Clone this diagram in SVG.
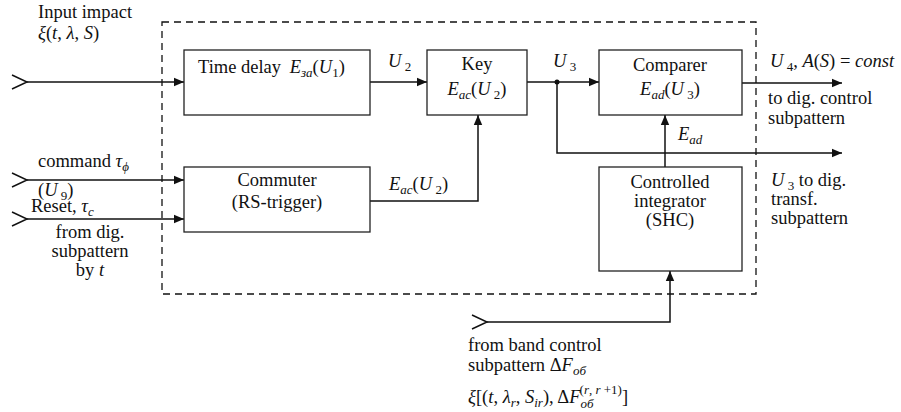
<svg xmlns="http://www.w3.org/2000/svg" width="901" height="412" viewBox="0 0 901 412">
  <defs>
    <marker id="arr" viewBox="0 0 10 10" refX="10" refY="5" markerWidth="10" markerHeight="10" markerUnits="userSpaceOnUse" orient="auto">
      <path d="M0,0.8 L10,5 L0,9.2 Z" fill="#111"/>
    </marker>
  </defs>

  <!-- dashed enclosure of the processing unit -->
  <rect x="162" y="22" width="594" height="272" fill="none" stroke="#111" stroke-width="1.3" stroke-dasharray="7 5"/>

  <g id="connectors" fill="none" stroke="#111" stroke-width="1.5">
    <!-- input chevrons -->
    <polyline points="12,75 27,82 12,89"/>
    <polyline points="12,173 27,180 12,187"/>
    <polyline points="12,212 27,219 12,226"/>
    <polyline points="472,315 487,322 472,329"/>
    <!-- input impact to time delay -->
    <line x1="27" y1="82" x2="184" y2="82" marker-end="url(#arr)"/>
    <!-- command and reset to commuter -->
    <line x1="27" y1="180" x2="184" y2="180" marker-end="url(#arr)"/>
    <line x1="27" y1="219" x2="184" y2="219" marker-end="url(#arr)"/>
    <!-- time delay to key -->
    <line x1="370" y1="82" x2="427" y2="82" marker-end="url(#arr)"/>
    <!-- commuter to key -->
    <polyline points="370,201 478,201 478,115" marker-end="url(#arr)"/>
    <!-- key to comparer -->
    <line x1="527" y1="82" x2="599" y2="82" marker-end="url(#arr)"/>
    <circle cx="557" cy="82" r="2.5" fill="#111" stroke="none"/>
    <!-- U3 branch out -->
    <polyline points="557,82 557,153 842,153" marker-end="url(#arr)"/>
    <!-- comparer output -->
    <line x1="742" y1="83" x2="842" y2="83" marker-end="url(#arr)"/>
    <!-- integrator to comparer -->
    <line x1="665" y1="167" x2="665" y2="115" marker-end="url(#arr)"/>
    <!-- band control input to integrator -->
    <polyline points="487,322 670,322 670,271" marker-end="url(#arr)"/>
  </g>

  <g id="time-delay">
    <rect x="184" y="50" width="186" height="65" fill="#fff" stroke="#222" stroke-width="1.3"/>
    <text font-family="Liberation Serif" font-size="18.5" fill="#111" x="198" y="73">Time delay <tspan font-style="italic" dx="4">E</tspan><tspan font-style="italic" font-size="13" dy="4">за</tspan><tspan dy="-4">(</tspan><tspan font-style="italic">U</tspan><tspan font-size="13" dy="4">1</tspan><tspan dy="-4">)</tspan></text>
  </g>

  <g id="key">
    <rect x="427" y="50" width="100" height="65" fill="#fff" stroke="#222" stroke-width="1.3"/>
    <text font-family="Liberation Serif" font-size="18.5" fill="#111" text-anchor="middle" x="477" y="70">Key</text>
    <text font-family="Liberation Serif" font-size="18.5" fill="#111" text-anchor="middle" x="477" y="95"><tspan font-style="italic">E</tspan><tspan font-style="italic" font-size="13" dy="4">ac</tspan><tspan dy="-4">(</tspan><tspan font-style="italic">U</tspan><tspan font-size="13" dy="4"> 2</tspan><tspan dy="-4">)</tspan></text>
  </g>

  <g id="comparer">
    <rect x="599" y="50" width="143" height="65" fill="#fff" stroke="#222" stroke-width="1.3"/>
    <text font-family="Liberation Serif" font-size="18.5" fill="#111" text-anchor="middle" x="670" y="71">Comparer</text>
    <text font-family="Liberation Serif" font-size="18.5" fill="#111" text-anchor="middle" x="670" y="95"><tspan font-style="italic">E</tspan><tspan font-style="italic" font-size="13" dy="4">ad</tspan><tspan dy="-4">(</tspan><tspan font-style="italic">U</tspan><tspan font-size="13" dy="4"> 3</tspan><tspan dy="-4">)</tspan></text>
  </g>

  <g id="commuter">
    <rect x="184" y="167" width="186" height="65" fill="#fff" stroke="#222" stroke-width="1.3"/>
    <text font-family="Liberation Serif" font-size="18.5" fill="#111" text-anchor="middle" x="277" y="186">Commuter</text>
    <text font-family="Liberation Serif" font-size="18.5" fill="#111" text-anchor="middle" x="277" y="208">(RS-trigger)</text>
  </g>

  <g id="integrator">
    <rect x="599" y="167" width="143" height="104" fill="#fff" stroke="#222" stroke-width="1.3"/>
    <text font-family="Liberation Serif" font-size="18.5" fill="#111" text-anchor="middle" x="670" y="188">Controlled</text>
    <text font-family="Liberation Serif" font-size="18.5" fill="#111" text-anchor="middle" x="670" y="207">integrator</text>
    <text font-family="Liberation Serif" font-size="18.5" fill="#111" text-anchor="middle" x="670" y="226">(SHC)</text>
  </g>

  <g id="labels">
    <text font-family="Liberation Serif" font-size="18.5" fill="#111" x="38" y="18">Input impact</text>
    <text font-family="Liberation Serif" font-size="18.5" fill="#111" x="38" y="39"><tspan font-style="italic">ξ</tspan>(<tspan font-style="italic">t</tspan>, <tspan font-style="italic">λ</tspan>, <tspan font-style="italic">S</tspan>)</text>
    <text font-family="Liberation Serif" font-size="18.5" fill="#111" x="388" y="67"><tspan font-style="italic">U</tspan><tspan font-size="13" dy="4"> 2</tspan></text>
    <text font-family="Liberation Serif" font-size="18.5" fill="#111" x="553" y="67"><tspan font-style="italic">U</tspan><tspan font-size="13" dy="4"> 3</tspan></text>
    <text font-family="Liberation Serif" font-size="18.5" fill="#111" x="770" y="67"><tspan font-style="italic">U</tspan><tspan font-size="13" dy="4"> 4</tspan><tspan dy="-4">, </tspan><tspan font-style="italic">A</tspan>(<tspan font-style="italic">S</tspan>) = <tspan font-style="italic">const</tspan></text>
    <text font-family="Liberation Serif" font-size="18.5" fill="#111" x="768" y="104">to dig. control</text>
    <text font-family="Liberation Serif" font-size="18.5" fill="#111" x="768" y="124">subpattern</text>
    <text font-family="Liberation Serif" font-size="18.5" fill="#111" x="678" y="140"><tspan font-style="italic">E</tspan><tspan font-style="italic" font-size="13" dy="4">ad</tspan></text>
    <text font-family="Liberation Serif" font-size="18.5" fill="#111" x="771" y="186"><tspan font-style="italic">U</tspan><tspan font-size="13" dy="4"> 3</tspan><tspan dy="-4">  to dig.</tspan></text>
    <text font-family="Liberation Serif" font-size="18.5" fill="#111" x="771" y="205">transf.</text>
    <text font-family="Liberation Serif" font-size="18.5" fill="#111" x="771" y="224">subpattern</text>
    <text font-family="Liberation Serif" font-size="18.5" fill="#111" x="389" y="190"><tspan font-style="italic">E</tspan><tspan font-style="italic" font-size="13" dy="4">ac</tspan><tspan dy="-4">(</tspan><tspan font-style="italic">U</tspan><tspan font-size="13" dy="4"> 2</tspan><tspan dy="-4">)</tspan></text>
    <text font-family="Liberation Serif" font-size="18.5" fill="#111" x="38" y="167">command  <tspan font-style="italic">τ</tspan><tspan font-style="italic" font-size="13" dy="4">ϕ</tspan></text>
    <text font-family="Liberation Serif" font-size="18.5" fill="#111" x="38" y="196">(<tspan font-style="italic">U</tspan><tspan font-size="13" dy="4"> 9</tspan><tspan dy="-4">)</tspan></text>
    <text font-family="Liberation Serif" font-size="18.5" fill="#111" x="31" y="212">Reset,  <tspan font-style="italic">τ</tspan><tspan font-style="italic" font-size="13" dy="4">c</tspan></text>
    <text font-family="Liberation Serif" font-size="18.5" fill="#111" text-anchor="middle" x="90" y="238">from dig.</text>
    <text font-family="Liberation Serif" font-size="18.5" fill="#111" text-anchor="middle" x="90" y="257">subpattern</text>
    <text font-family="Liberation Serif" font-size="18.5" fill="#111" text-anchor="middle" x="90" y="276">by <tspan font-style="italic">t</tspan></text>
    <text font-family="Liberation Serif" font-size="18.5" fill="#111" x="468" y="351">from band control</text>
    <text font-family="Liberation Serif" font-size="18.5" fill="#111" x="468" y="371">subpattern  Δ<tspan font-style="italic">F</tspan><tspan font-style="italic" font-size="13" dy="4">oб</tspan></text>
    <text font-family="Liberation Serif" font-size="18.5" fill="#111" x="468" y="403"><tspan font-style="italic">ξ</tspan>[(<tspan font-style="italic">t</tspan>, <tspan font-style="italic">λ</tspan><tspan font-style="italic" font-size="13" dy="4">r</tspan><tspan dy="-4">, </tspan><tspan font-style="italic">S</tspan><tspan font-style="italic" font-size="13" dy="4">ir</tspan><tspan dy="-4">), Δ</tspan><tspan font-style="italic">F</tspan><tspan font-style="italic" font-size="13" dy="5">oб</tspan><tspan font-size="13" dx="-14" dy="-14">(</tspan><tspan font-style="italic" font-size="13">r</tspan><tspan font-size="13">, </tspan><tspan font-style="italic" font-size="13">r</tspan><tspan font-size="13"> +1)</tspan><tspan dy="9">]</tspan></text>
  </g>
</svg>
